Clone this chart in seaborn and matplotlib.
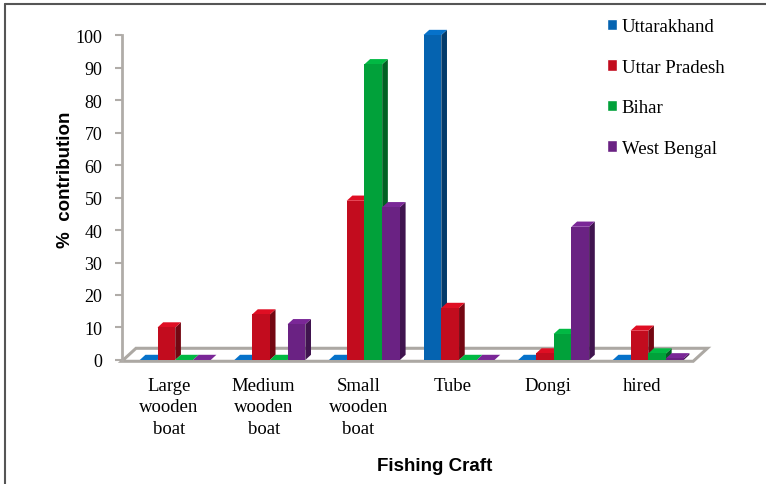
import numpy as np
import pandas as pd
import matplotlib.pyplot as plt
import seaborn as sns
from matplotlib.patches import Polygon, Rectangle
from matplotlib.lines import Line2D
from matplotlib.colors import to_rgb

# data
crafts = ['Large\nwooden\nboat', 'Medium\nwooden\nboat', 'Small\nwooden\nboat',
          'Tube', 'Dongi', 'hired']
states = ['Uttarakhand', 'Uttar Pradesh', 'Bihar', 'West Bengal']
uttarakhand = [0, 0, 0, 100, 0, 0]
uttar_pradesh = [10, 14, 49, 16, 2, 9]
bihar = [0, 0, 91, 0, 8, 2]
west_bengal = [0, 11, 47, 0, 41, 0.5]
colors = ['#0563b0', '#c20c1e', '#01a13a', '#6a2283']

df = pd.DataFrame({
    'craft': crafts * 4,
    'state': np.repeat(states, len(crafts)),
    'value': uttarakhand + uttar_pradesh + bihar + west_bengal,
})

sns.set_style('white')
serif = ['Liberation Serif', 'DejaVu Serif']
sans = ['Liberation Sans', 'DejaVu Sans']
plt.rcParams['font.family'] = serif
plt.rcParams['text.color'] = 'black'
plt.rcParams['xtick.labelcolor'] = 'black'
plt.rcParams['ytick.labelcolor'] = 'black'
plt.rcParams['axes.labelcolor'] = 'black'

fig = plt.figure(figsize=(7.66, 4.85), dpi=100)
ax = fig.add_axes([0.159, 0.2557, 0.741, 0.67])

sns.barplot(data=df, x='craft', y='value', hue='state', hue_order=states,
            palette=colors, width=0.75, saturation=1, ax=ax, legend=False,
            zorder=3, edgecolor='none')

# fake 3D depth for each bar (drawn behind the front faces)
dx, dy = 0.06, 1.6
for bar in list(ax.patches):
    x, w, h = bar.get_x(), bar.get_width(), bar.get_height()
    c = np.array(to_rgb(bar.get_facecolor()))
    side = Polygon([(x + w, 0), (x + w + dx, dy), (x + w + dx, h + dy), (x + w, h)],
                   closed=True, facecolor=c * 0.6, edgecolor='none', zorder=2.5,
                   clip_on=False)
    top = Polygon([(x, h), (x + dx, h + dy), (x + w + dx, h + dy), (x + w, h)],
                  closed=True, facecolor=np.minimum(c * 1.15, 1), edgecolor='none',
                  zorder=2.5, clip_on=False)
    ax.add_patch(side)
    ax.add_patch(top)

# shift the bars a little right of their labels, like the 3D original
shift = 0.065
x0, x1 = -0.5 - shift, 5.5 - shift
ax.set_xlim(x0, x1)
ax.set_xticks(np.arange(len(crafts)) - shift, crafts)

# floor slab
fdx, fdy = 0.15, 3.6
floor = Polygon([(x0, -0.4), (x1 + 0.04, -0.4), (x1 + 0.04 + fdx, fdy), (x0 + fdx, fdy)],
                closed=True, facecolor='white', edgecolor='#aca8a3', lw=2.2, zorder=1,
                clip_on=False)
ax.add_patch(floor)

ax.set_ylim(0, 100)
ax.set_yticks(range(0, 101, 10))
ax.tick_params(axis='y', labelsize=13, length=5, width=1.5, color='#b0aca8',
               left=True, pad=9)
ax.tick_params(axis='x', labelsize=13.5, length=0, pad=12)
for lab in ax.get_xticklabels() + ax.get_yticklabels():
    lab.set_family(serif)
    lab.set_linespacing(1.35)
for s in ['top', 'right', 'bottom']:
    ax.spines[s].set_visible(False)
ax.spines['left'].set_color('#b0aca8')
ax.spines['left'].set_linewidth(2)

ax.set_xlabel('')
ax.set_ylabel('%  contribution', fontsize=13.5, fontweight='bold', family=sans)
ax.yaxis.set_label_coords(-0.085, 0.557)
fig.text(0.568, 0.028, 'Fishing Craft', fontsize=13.5, fontweight='bold',
         family=sans, ha='center')

handles = [Rectangle((0, 0), 1, 1, facecolor=c) for c in colors]
fig.legend(handles, states, loc='upper left', bbox_to_anchor=(0.77, 0.995),
           frameon=False, prop={'family': serif, 'size': 13.5},
           handlelength=0.55, handleheight=0.55, handletextpad=0.25,
           labelspacing=1.25)

# figure border (top and left only)
fig.add_artist(Line2D([0.007, 1.0], [0.99, 0.99], transform=fig.transFigure,
                      color='#555555', lw=1.5))
fig.add_artist(Line2D([0.007, 0.007], [0.0, 0.99], transform=fig.transFigure,
                      color='#555555', lw=1.5))

plt.savefig('out.png', dpi=100)
